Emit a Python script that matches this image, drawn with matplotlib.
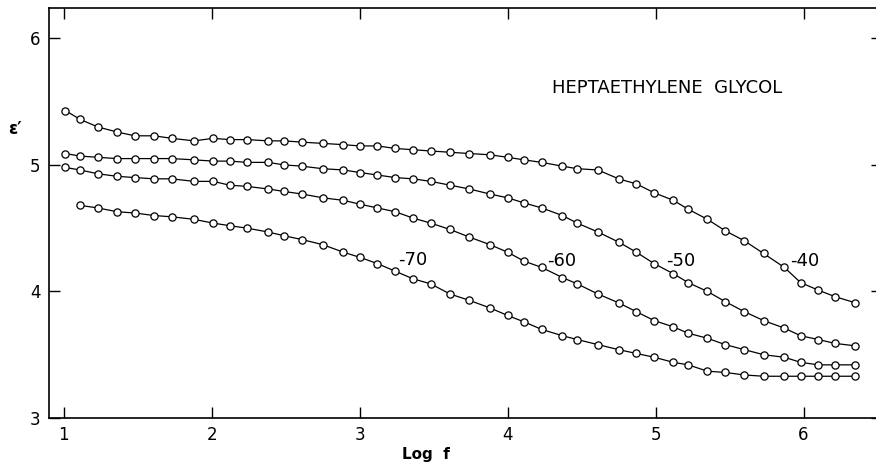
import numpy as np
import matplotlib.pyplot as plt

# log of frequency, same for every temperature
log_f = [1.01, 1.11, 1.23, 1.36, 1.48, 1.61, 1.73, 1.88, 2.01, 2.12, 2.24,
         2.38, 2.49, 2.61, 2.75, 2.89, 3.00, 3.12, 3.24, 3.36, 3.48, 3.61,
         3.74, 3.88, 4.00, 4.11, 4.23, 4.37, 4.47, 4.61, 4.75, 4.87, 4.99,
         5.12, 5.22, 5.35, 5.47, 5.60, 5.73, 5.87, 5.98, 6.10, 6.21, 6.35]

# dielectric constant e' at each temperature (deg C)
eps_m40 = [5.43, 5.36, 5.30, 5.26, 5.23, 5.23, 5.21, 5.19, 5.21, 5.20, 5.20,
           5.19, 5.19, 5.18, 5.17, 5.16, 5.15, 5.15, 5.13, 5.12, 5.11, 5.10,
           5.09, 5.08, 5.06, 5.04, 5.02, 4.99, 4.97, 4.96, 4.89, 4.85, 4.78,
           4.72, 4.65, 4.57, 4.48, 4.40, 4.30, 4.19, 4.07, 4.01, 3.96, 3.91]
eps_m50 = [5.09, 5.07, 5.06, 5.05, 5.05, 5.05, 5.05, 5.04, 5.03, 5.03, 5.02,
           5.02, 5.00, 4.99, 4.97, 4.96, 4.94, 4.92, 4.90, 4.89, 4.87, 4.84,
           4.81, 4.77, 4.74, 4.70, 4.66, 4.60, 4.54, 4.47, 4.39, 4.31, 4.22,
           4.14, 4.07, 4.00, 3.92, 3.84, 3.77, 3.71, 3.65, 3.62, 3.59, 3.57]
eps_m60 = [4.98, 4.96, 4.93, 4.91, 4.90, 4.89, 4.89, 4.87, 4.87, 4.84, 4.83,
           4.81, 4.79, 4.77, 4.74, 4.72, 4.69, 4.66, 4.63, 4.58, 4.54, 4.49,
           4.43, 4.37, 4.31, 4.24, 4.19, 4.11, 4.06, 3.98, 3.91, 3.84, 3.77,
           3.72, 3.67, 3.63, 3.58, 3.54, 3.50, 3.48, 3.44, 3.42, 3.42, 3.42]
# -70 run starts at the second frequency
eps_m70 = [4.68, 4.66, 4.63, 4.62, 4.60, 4.59, 4.57, 4.54, 4.52, 4.50,
           4.47, 4.44, 4.41, 4.37, 4.31, 4.27, 4.22, 4.16, 4.10, 4.06, 3.98,
           3.93, 3.87, 3.81, 3.76, 3.70, 3.65, 3.62, 3.58, 3.54, 3.51, 3.48,
           3.44, 3.42, 3.37, 3.36, 3.34, 3.33, 3.33, 3.33, 3.33, 3.33, 3.33]

temps = ["-40", "-50", "-60", "-70"]
label_pos = [(5.91, 4.24), (5.07, 4.24), (4.27, 4.24), (3.26, 4.25)]

plt.rcParams['font.family'] = ['DejaVu Sans']

fig = plt.figure(figsize=(8.76, 4.68), dpi=100)
ax = fig.add_axes([49/876, 1 - 418/468, 833/876, 410/468])

series = [(log_f, eps_m40), (log_f, eps_m50), (log_f, eps_m60), (log_f[1:], eps_m70)]
for xs, ys in series:
    ax.plot(xs, ys, color='black', lw=0.9, marker='o', ms=5.2,
            mfc='white', mec='black', mew=0.9)

for t, (tx, ty) in zip(temps, label_pos):
    ax.text(tx, ty, t, fontsize=13, ha='left', va='center')

ax.text(4.30, 5.61, "HEPTAETHYLENE  GLYCOL", fontsize=13, ha='left', va='center')

ax.set_xlim(0.90, 6.53)
ax.set_ylim(3.0, 6.24)
ax.set_xticks([1, 2, 3, 4, 5, 6])
ax.set_yticks([3, 4, 5, 6])
ax.tick_params(direction='in', length=8, width=1.0, top=True, right=True,
               labelsize=12, pad=6)
for s in ax.spines.values():
    s.set_linewidth(1.2)
ax.spines['right'].set_visible(False)

ax.set_xlabel("Log  f", fontsize=11, fontweight='bold')
ax.xaxis.set_label_coords((426 - 49) / 833, -0.07)
fig.text(15/876, 1 - 129/468, "\u03b5\u2032", fontsize=12, fontweight='bold',
         ha='center', va='center')

plt.savefig("out.png", dpi=100)
